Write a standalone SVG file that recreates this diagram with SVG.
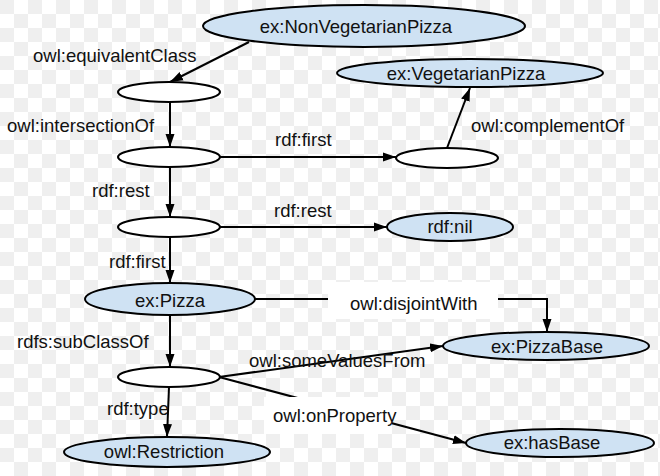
<svg xmlns="http://www.w3.org/2000/svg" width="660" height="476" viewBox="0 0 660 476">
<defs>
<pattern id="chk" width="28" height="28" patternUnits="userSpaceOnUse">
<rect width="28" height="28" fill="#ffffff"/>
<rect x="0" y="0" width="14" height="14" fill="#efefef"/>
<rect x="14" y="14" width="14" height="14" fill="#efefef"/>
</pattern>
<marker id="arr" markerUnits="userSpaceOnUse" markerWidth="14" markerHeight="10" refX="13" refY="5" orient="auto">
<path d="M0,0.5 L13,5 L0,9.5 z" fill="#000"/>
</marker>
<style>
.lbl{font-family:"Liberation Sans",Arial,sans-serif;font-size:18.5px;fill:#111}
.blank{fill:#fff;stroke:#000;stroke-width:2}
.cls{fill:#cfe2f3;stroke:#000;stroke-width:2}
.edge{fill:none;stroke:#000;stroke-width:2;marker-end:url(#arr)}
.box{fill:#fff}
.mid{text-anchor:middle}
</style>
</defs>
<rect width="660" height="476" fill="url(#chk)"/>

<g id="connectors">
<path class="edge" d="M249,42 L170,82"/>
<path class="edge" d="M170,102 L170,147"/>
<path class="edge" d="M219,157 L396,157"/>
<path class="edge" d="M447,148 L470,88"/>
<path class="edge" d="M170,167 L170,217"/>
<path class="edge" d="M219,227 L387,227"/>
<path class="edge" d="M170,237 L170,283"/>
<path class="edge" d="M255,299 L547,299 L547,332"/>
<path class="edge" d="M170,315 L170,367"/>
<path class="edge" d="M219,377 L443,346"/>
<path class="edge" d="M219,377 L466,443"/>
<path class="edge" d="M169,387 L167,437"/>
<rect class="box" x="328" y="282" width="170" height="37"/>
<rect class="box" x="264" y="397" width="128" height="37"/>
<text class="lbl" x="33" y="62">owl:equivalentClass</text>
<text class="lbl" x="7" y="132">owl:intersectionOf</text>
<text class="lbl" x="275" y="146">rdf:first</text>
<text class="lbl" x="471" y="132">owl:complementOf</text>
<text class="lbl" x="92" y="197">rdf:rest</text>
<text class="lbl" x="274" y="217">rdf:rest</text>
<text class="lbl" x="109" y="268">rdf:first</text>
<text class="lbl" x="350" y="310">owl:disjointWith</text>
<text class="lbl" x="17" y="348">rdfs:subClassOf</text>
<text class="lbl" x="249" y="367">owl:someValuesFrom</text>
<text class="lbl" x="107" y="415">rdf:type</text>
<text class="lbl" x="273" y="422">owl:onProperty</text>
</g>

<g id="n-nonveg"><ellipse class="cls" cx="364" cy="26" rx="161" ry="21"/><text class="lbl mid" x="356" y="33">ex:NonVegetarianPizza</text></g>
<g id="n-b1"><ellipse class="blank" cx="169" cy="92" rx="51" ry="10"/></g>
<g id="n-b2"><ellipse class="blank" cx="169" cy="157" rx="51" ry="10"/></g>
<g id="n-b3"><ellipse class="blank" cx="169" cy="227" rx="51" ry="10"/></g>
<g id="n-b4"><ellipse class="blank" cx="169" cy="377" rx="51" ry="10"/></g>
<g id="n-b5"><ellipse class="blank" cx="447" cy="158" rx="51" ry="10"/></g>
<g id="n-veg"><ellipse class="cls" cx="470" cy="73" rx="133" ry="14"/><text class="lbl mid" x="466" y="80">ex:VegetarianPizza</text></g>
<g id="n-nil"><ellipse class="cls" cx="450" cy="227" rx="63" ry="14"/><text class="lbl mid" x="450" y="233">rdf:nil</text></g>
<g id="n-pizza"><ellipse class="cls" cx="170" cy="299" rx="85" ry="16"/><text class="lbl mid" x="170" y="307">ex:Pizza</text></g>
<g id="n-pizzabase"><ellipse class="cls" cx="546" cy="346" rx="103" ry="14"/><text class="lbl mid" x="547" y="353">ex:PizzaBase</text></g>
<g id="n-hasbase"><ellipse class="cls" cx="560" cy="443" rx="94" ry="14"/><text class="lbl mid" x="552" y="449">ex:hasBase</text></g>
<g id="n-restriction"><ellipse class="cls" cx="167" cy="452" rx="103" ry="15"/><text class="lbl mid" x="164" y="458">owl:Restriction</text></g>
</svg>
